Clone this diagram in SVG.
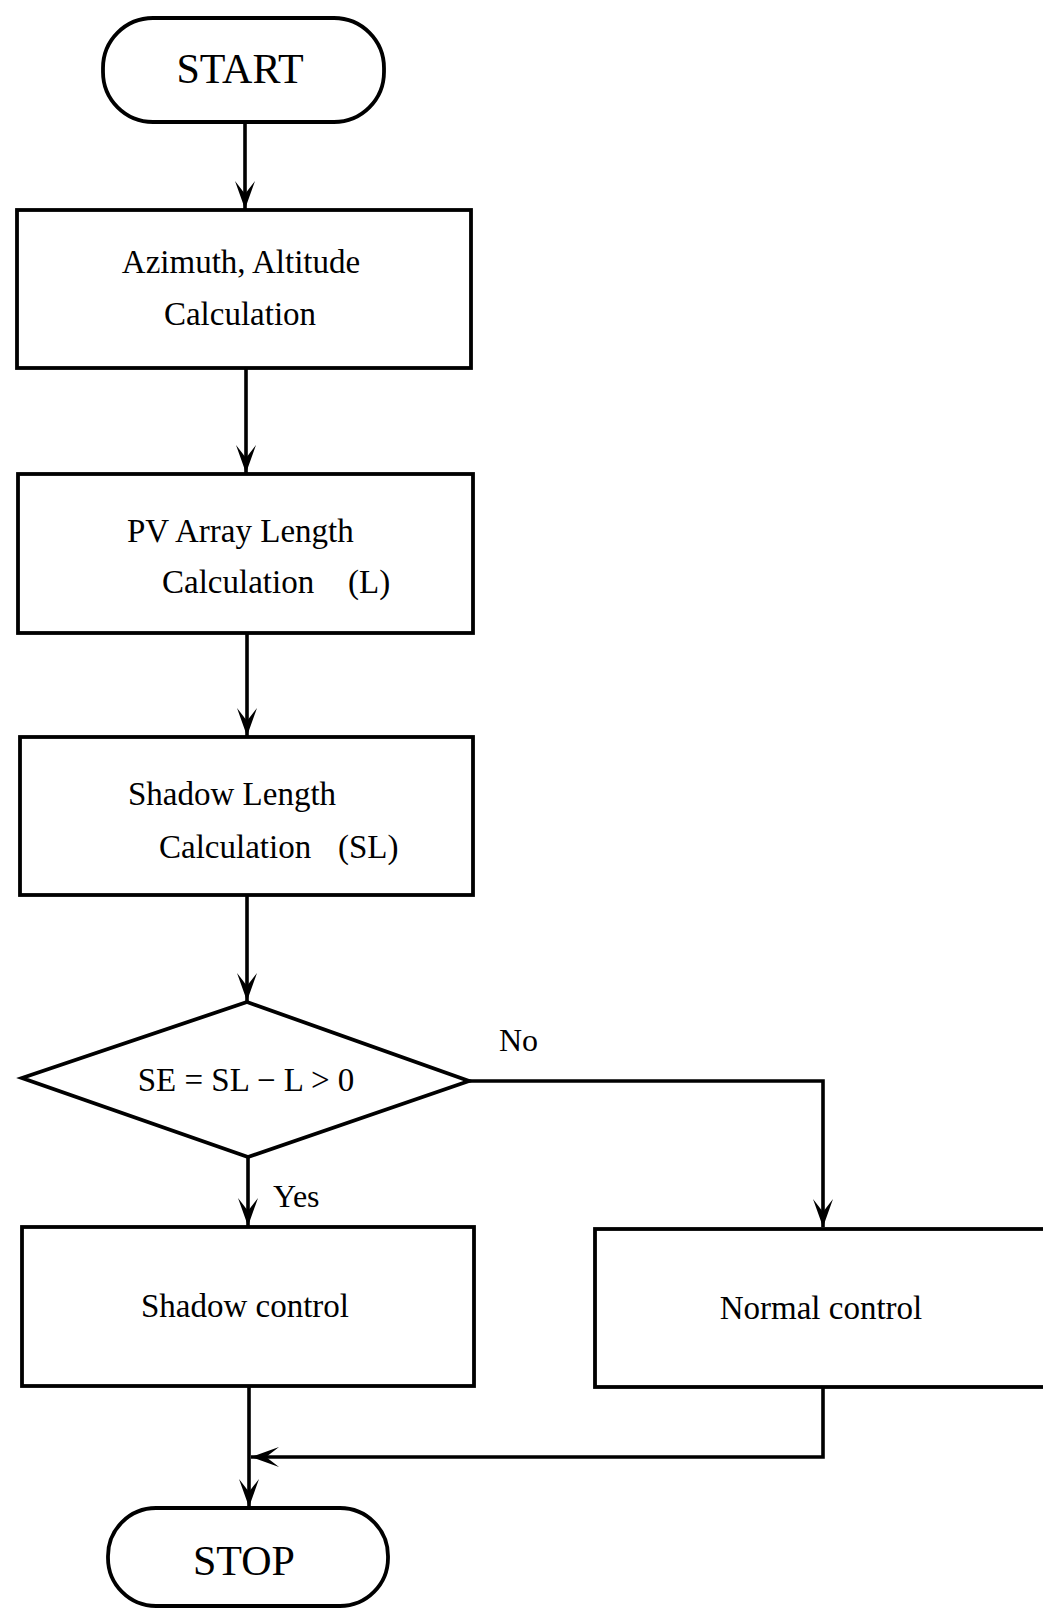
<svg xmlns="http://www.w3.org/2000/svg" width="1043" height="1609" viewBox="0 0 1043 1609">
<defs>
<marker id="arr" markerUnits="userSpaceOnUse" markerWidth="40" markerHeight="30" viewBox="-30 -15 40 30" refX="0" refY="0" orient="auto">
<path d="M0,0 L-28,-10 Q-19,-3 -15,0 Q-19,3 -28,10 Z" fill="#000"/>
</marker>
<style>
.shape{fill:#fff;stroke:#000;stroke-width:3.8}
.conn{fill:none;stroke:#000;stroke-width:3.6}
text{font-family:"Liberation Serif","Times New Roman",serif;fill:#000}
.t{font-size:33px}
.term{font-size:42px;text-anchor:middle}
.mid{text-anchor:middle}
</style>
</defs>
<rect width="1043" height="1609" fill="#fff"/>
<g id="connectors">
<line class="conn" x1="245" y1="122" x2="245" y2="209" marker-end="url(#arr)"/>
<line class="conn" x1="246" y1="368" x2="246" y2="473" marker-end="url(#arr)"/>
<line class="conn" x1="247" y1="633" x2="247" y2="736" marker-end="url(#arr)"/>
<line class="conn" x1="247" y1="895" x2="247" y2="1001" marker-end="url(#arr)"/>
<line class="conn" x1="248" y1="1157" x2="248" y2="1226" marker-end="url(#arr)"/>
<path class="conn" d="M469,1081 H823 V1227" marker-end="url(#arr)"/>
<line class="conn" x1="249" y1="1386" x2="249" y2="1507" marker-end="url(#arr)"/>
<path class="conn" d="M823,1387 V1457 H251" marker-end="url(#arr)"/>
</g>
<g id="start">
<rect class="shape" x="103" y="18" width="281" height="104" rx="50" ry="50"/>
<text class="term" x="240" y="83">START</text>
</g>
<g id="azimuth">
<rect class="shape" x="17" y="210" width="454" height="158"/>
<text class="t mid" x="241" y="273">Azimuth, Altitude</text>
<text class="t mid" x="240" y="325">Calculation</text>
</g>
<g id="pvarray">
<rect class="shape" x="18" y="474" width="455" height="159"/>
<text class="t" x="127" y="542">PV Array Length</text>
<text class="t" y="593"><tspan x="162">Calculation</tspan><tspan x="348">(L)</tspan></text>
</g>
<g id="shadowlength">
<rect class="shape" x="20" y="737" width="453" height="158"/>
<text class="t" x="128" y="805">Shadow Length</text>
<text class="t" y="858"><tspan x="159">Calculation</tspan><tspan x="338">(SL)</tspan></text>
</g>
<g id="decision">
<polygon class="shape" points="247,1002 469,1081 248,1157 22,1078"/>
<text class="mid" x="246" y="1091" font-size="33">SE = SL − L &gt; 0</text>
</g>
<text x="499" y="1051" font-size="32">No</text>
<text x="273" y="1207" font-size="32">Yes</text>
<g id="shadowcontrol">
<rect class="shape" x="22" y="1227" width="452" height="159"/>
<text class="t mid" x="245" y="1317">Shadow control</text>
</g>
<g id="normalcontrol">
<rect class="shape" x="595" y="1229" width="460" height="158"/>
<text class="t mid" x="821" y="1319">Normal control</text>
</g>
<g id="stop">
<rect class="shape" x="108" y="1508" width="280" height="98" rx="48" ry="48"/>
<text class="term" x="244" y="1575">STOP</text>
</g>
</svg>
